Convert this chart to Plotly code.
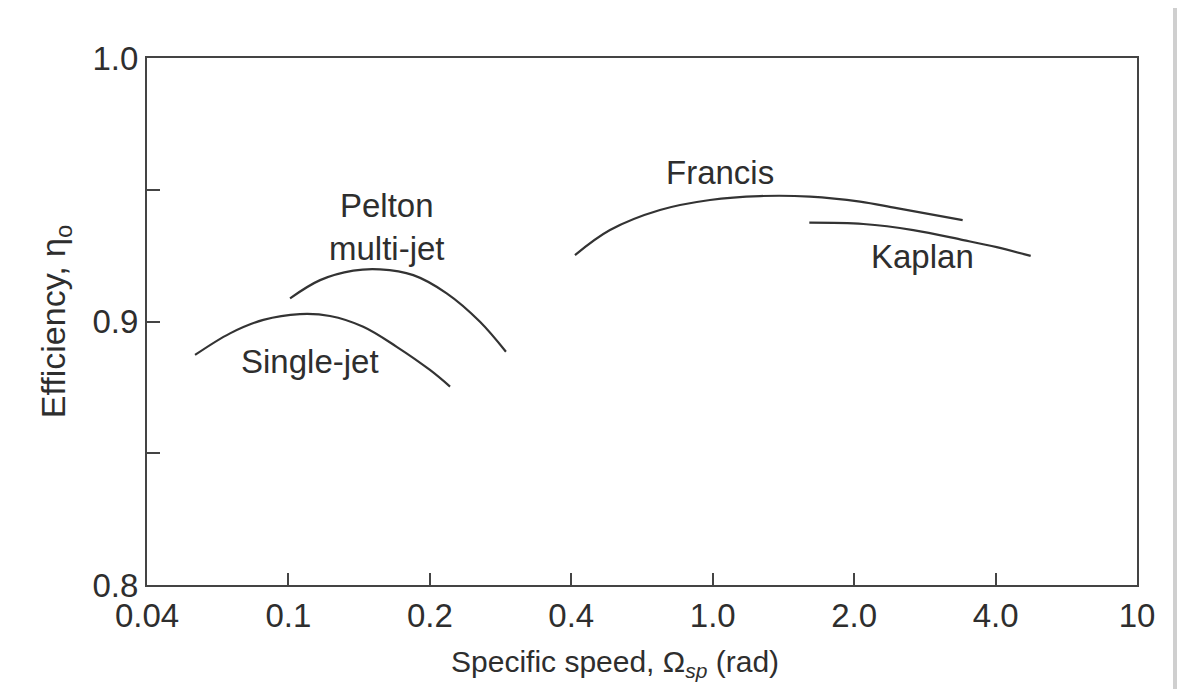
import numpy as np
import plotly.graph_objects as go

# Axis tick labels (evenly spaced on the original chart)
tick_values = [0.04, 0.1, 0.2, 0.4, 1.0, 2.0, 4.0, 10.0]
tick_labels = ["0.04", "0.1", "0.2", "0.4", "1.0", "2.0", "4.0", "10"]
y_tick_values = [0.8, 0.85, 0.9, 0.95, 1.0]
y_tick_labels = ["0.8", "", "0.9", "", "1.0"]

# Curves: specific speed (rad) and efficiency
single_jet_x = [0.0546, 0.0685, 0.0850, 0.1058, 0.1226, 0.1443, 0.1700, 0.2001, 0.2208]
single_jet_y = [0.8873, 0.8955, 0.9006, 0.9028, 0.9021, 0.8980, 0.8904, 0.8816, 0.8753]

multi_jet_x = [0.1008, 0.1168, 0.1374, 0.1566, 0.1844, 0.2172, 0.2557, 0.2904]
multi_jet_y = [0.9088, 0.9157, 0.9193, 0.9198, 0.9176, 0.9107, 0.8999, 0.8885]

francis_x = [0.4097, 0.5140, 0.7105, 0.9826, 1.2607, 1.6108, 2.0585, 2.4640, 3.4040]
francis_y = [0.9252, 0.9347, 0.9423, 0.9461, 0.9476, 0.9474, 0.9455, 0.9430, 0.9385]

kaplan_x = [1.6055, 2.0916, 2.6723, 3.4147, 4.030, 5.022]
kaplan_y = [0.9375, 0.9370, 0.9347, 0.9309, 0.9282, 0.9249]

# Curve labels
label_texts = ["Pelton<br>multi-jet", "Single-jet", "Francis", "Kaplan"]
label_x = [0.162, 0.111, 1.036, 2.79]
label_y = [0.9359, 0.885, 0.9564, 0.9245]

x_title = "Specific speed, Ω<sub><i>sp</i></sub> (rad)"
y_title = "Efficiency, η<sub>o</sub>"

log_ticks = np.log10(tick_values)
tick_pos = np.arange(len(tick_values))


def to_axis(v):
    """Map specific speed to the evenly spaced (piecewise-log) axis of the chart."""
    return np.interp(np.log10(np.asarray(v, dtype=float)), log_ticks, tick_pos)


FONT = "Liberation Sans, Arial, Helvetica, sans-serif"
TEXT_COLOR = "#2e2e2e"
LINE_COLOR = "#333333"
AXIS_COLOR = "#444444"

fig = go.Figure()
for xs, ys, name in [
    (single_jet_x, single_jet_y, "Single-jet"),
    (multi_jet_x, multi_jet_y, "Pelton multi-jet"),
    (francis_x, francis_y, "Francis"),
    (kaplan_x, kaplan_y, "Kaplan"),
]:
    fig.add_trace(go.Scatter(
        x=to_axis(xs), y=ys, mode="lines", name=name,
        line=dict(color=LINE_COLOR, width=2.2, shape="spline", smoothing=1.0),
        showlegend=False, hoverinfo="skip",
    ))

for t, lx, ly in zip(label_texts, label_x, label_y):
    fig.add_annotation(
        x=float(to_axis([lx])[0]), y=ly, text=t, showarrow=False,
        font=dict(family=FONT, size=33, color=TEXT_COLOR),
        xanchor="center", yanchor="middle", align="center",
    )

# Figure geometry (page has an 8px body margin)
W, H = 1177, 681
L, R, T, B = 139, 48, 50, 104
pw, ph = W - L - R, H - T - B


def px_to_paper_x(px):
    return (px - L) / pw


def px_to_paper_y(py):
    return (H - B - py) / ph


# X-axis title, slightly left of the plot centre as in the original
fig.add_annotation(
    xref="paper", yref="paper", x=px_to_paper_x(607), y=px_to_paper_y(655),
    text=x_title, showarrow=False, xanchor="center", yanchor="middle",
    font=dict(family=FONT, size=30, color=TEXT_COLOR),
)

# White sheet on a gray background (gray strip at the right)
fig.add_shape(type="rect", xref="paper", yref="paper",
              x0=px_to_paper_x(-2), x1=px_to_paper_x(1165),
              y0=px_to_paper_y(H + 5), y1=px_to_paper_y(-5),
              fillcolor="white", line=dict(width=0), layer="below")

fig.update_layout(
    width=W, height=H, autosize=False,
    margin=dict(l=L, r=R, t=T, b=B, pad=0),
    paper_bgcolor="#cfcfcf", plot_bgcolor="white",
    font=dict(family=FONT, size=33, color=TEXT_COLOR),
    showlegend=False,
)

fig.update_xaxes(
    range=[0, len(tick_values) - 1], tickmode="array",
    tickvals=list(tick_pos), ticktext=tick_labels,
    ticks="inside", ticklen=12, tickwidth=2, tickcolor=AXIS_COLOR,
    showline=True, linecolor=AXIS_COLOR, linewidth=2, mirror=True,
    showgrid=False, zeroline=False,
    tickfont=dict(family=FONT, size=33, color=TEXT_COLOR),
)
fig.update_yaxes(
    range=[0.8, 1.0], tickmode="array",
    tickvals=y_tick_values, ticktext=y_tick_labels,
    ticks="inside", ticklen=13, tickwidth=2, tickcolor=AXIS_COLOR,
    showline=True, linecolor=AXIS_COLOR, linewidth=2, mirror=True,
    showgrid=False, zeroline=False,
    tickfont=dict(family=FONT, size=33, color=TEXT_COLOR),
    title=dict(text=y_title,
               font=dict(family=FONT, size=34, color=TEXT_COLOR), standoff=17),
)

fig.write_html("out.html")
